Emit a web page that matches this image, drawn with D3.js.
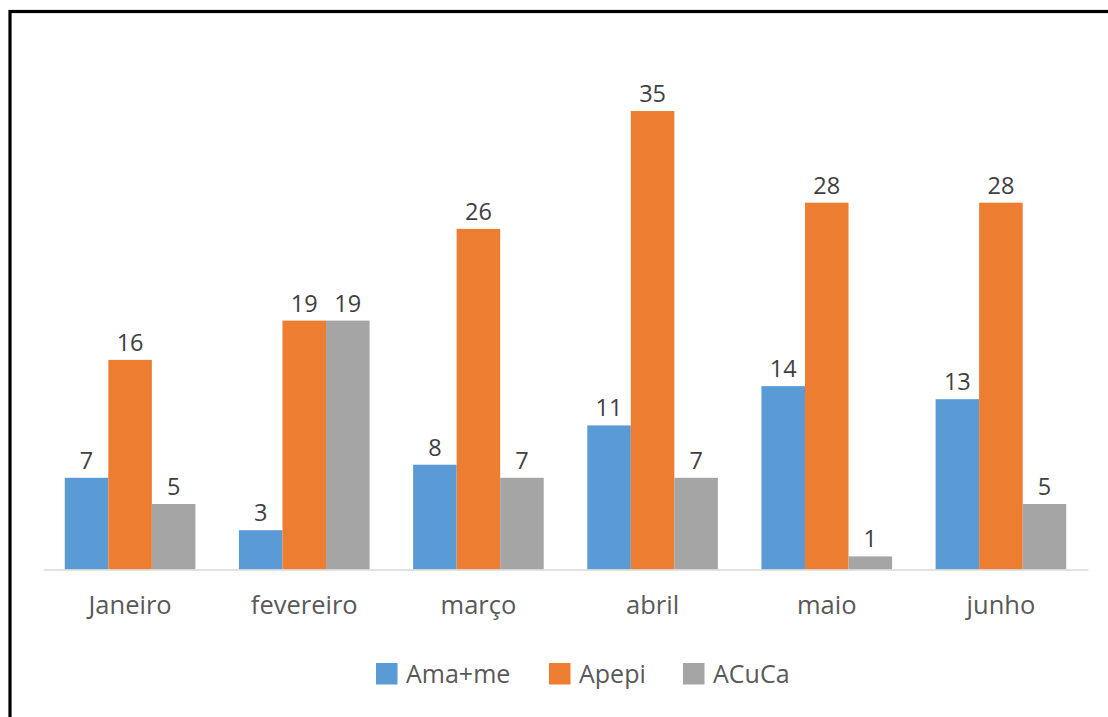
<!DOCTYPE html>
<html>
<head>
<meta charset="utf-8">
<script src="https://cdn.jsdelivr.net/npm/d3@7"></script>
<style>
  html, body { margin: 0; padding: 0; background: #fff; overflow: hidden; }
  svg { display: block; }
  text { font-family: "Open Sans", "Noto Sans", sans-serif; }
</style>
</head>
<body>
<svg id="chart" width="1108" height="717"></svg>
<script>
// Monthly counts per association
const months = ["Janeiro", "fevereiro", "março", "abril", "maio", "junho"];
const seriesNames = ["Ama+me", "Apepi", "ACuCa"];
const amaMe = [7, 3, 8, 11, 14, 13];
const apepi = [16, 19, 26, 35, 28, 28];
const acuca = [5, 19, 7, 7, 1, 5];
const seriesColors = ["#5B9BD5", "#ED7D31", "#A5A5A5"];

const seriesValues = [amaMe, apepi, acuca];
const rows = months.map((m, i) => ({
  month: m,
  values: seriesNames.map((s, k) => ({ series: s, value: seriesValues[k][i] }))
}));

const svg = d3.select("#chart");

// Outer frame
svg.append("rect")
  .attr("x", 10).attr("y", 11.5)
  .attr("width", 1120).attr("height", 730)
  .attr("fill", "none").attr("stroke", "#000").attr("stroke-width", 3.2);

const plot = { left: 43, right: 1088, top: 45.5, bottom: 569.5 };

const x0 = d3.scaleBand()
  .domain(months)
  .range([plot.left, plot.right])
  .paddingInner(0.25)
  .paddingOuter(0.125);

const x1 = d3.scaleBand()
  .domain(seriesNames)
  .range([0, x0.bandwidth()]);

const y = d3.scaleLinear()
  .domain([0, 40])
  .range([plot.bottom, plot.top]);

const color = d3.scaleOrdinal().domain(seriesNames).range(seriesColors);

// Bars
const groups = svg.append("g").selectAll("g")
  .data(rows)
  .join("g")
  .attr("transform", d => `translate(${x0(d.month)},0)`);

groups.selectAll("rect")
  .data(d => d.values)
  .join("rect")
  .attr("x", d => x1(d.series))
  .attr("y", d => y(d.value))
  .attr("width", x1.bandwidth())
  .attr("height", d => y(0) - y(d.value))
  .attr("fill", d => color(d.series));

// Value labels
groups.selectAll("text")
  .data(d => d.values)
  .join("text")
  .attr("x", d => x1(d.series) + x1.bandwidth() / 2)
  .attr("y", d => y(d.value) - 9)
  .attr("text-anchor", "middle")
  .attr("font-size", 23.5)
  .attr("fill", "#404040")
  .text(d => d.value);

// Category axis
const xAxis = svg.append("g")
  .attr("transform", `translate(0,${plot.bottom})`)
  .call(d3.axisBottom(x0).tickSize(0).tickSizeOuter(0));
xAxis.select(".domain").attr("stroke", "#D9D9D9").attr("stroke-width", 1.5);
xAxis.selectAll("text")
  .attr("y", 44)
  .attr("dy", 0)
  .attr("font-size", 25.5)
  .attr("fill", "#595959")
  .attr("font-family", "\"Open Sans\", \"Noto Sans\", sans-serif");

// Legend
const legendX = [376, 549, 683];
const legend = svg.append("g").selectAll("g")
  .data(seriesNames)
  .join("g")
  .attr("transform", (d, i) => `translate(${legendX[i]},663)`);
legend.append("rect")
  .attr("width", 21.5).attr("height", 21.5)
  .attr("fill", d => color(d));
legend.append("text")
  .attr("x", 30).attr("y", 19.5)
  .attr("font-size", 25)
  .attr("fill", "#595959")
  .text(d => d);
</script>
</body>
</html>
